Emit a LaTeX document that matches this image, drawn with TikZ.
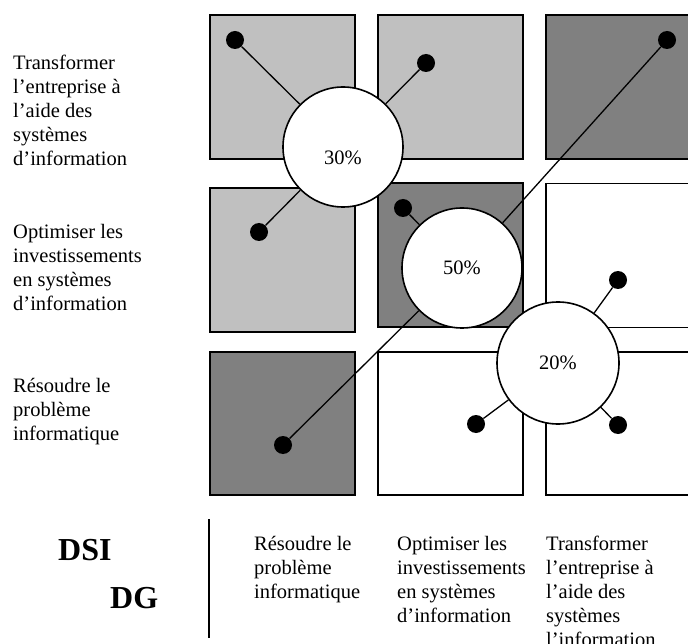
\documentclass[tikz,border=0pt]{standalone}
\usepackage{fontspec}
\setmainfont{Liberation Serif}
\definecolor{lightg}{HTML}{C0C0C0}
\definecolor{darkg}{HTML}{808080}
\tikzset{
  sq/.style={draw=black, line width=1.8pt, minimum width=145pt, minimum height=144pt, inner sep=0pt, outer sep=0pt},
  pct/.style={circle, draw=black, line width=1.6pt, fill=white, minimum size=120pt, inner sep=0pt, font=\fontsize{20.5}{24}\selectfont},
  dotn/.style={circle, fill=black, minimum size=18pt, inner sep=0pt},
  conn/.style={line width=1.3pt},
  lab/.style={anchor=base west, inner sep=0pt, font=\fontsize{20.5}{24}\selectfont},
  blab/.style={anchor=base west, inner sep=0pt, font=\fontsize{20.5}{24}\selectfont},
  big/.style={anchor=base west, inner sep=0pt, font=\bfseries\fontsize{32}{36}\selectfont}
}
\begin{document}
\begin{tikzpicture}[x=1pt,y=-1pt]
\useasboundingbox (0,0) rectangle (688,644);
% grid
\node[sq, fill=lightg] (s11) at (282.5,87) {};
\node[sq, fill=lightg] (s12) at (450.5,87) {};
\node[sq, fill=darkg]  (s13) at (618.5,87) {};
\node[sq, fill=lightg] (s21) at (282.5,260) {};
\node[sq, fill=darkg]  (s22) at (450.5,255) {};
\node[sq, fill=white]  (s23) at (618.5,255.5) {};
\node[sq, fill=darkg, minimum height=143pt] (s31) at (282.5,423.5) {};
\node[sq, fill=white, minimum height=143pt] (s32) at (450.5,423.5) {};
\node[sq, fill=white, minimum height=143pt] (s33) at (618.5,423.5) {};
% dots
\node[dotn] (d1) at (235,40) {};
\node[dotn] (d2) at (426,63) {};
\node[dotn] (d3) at (667,40) {};
\node[dotn] (d4) at (259,232) {};
\node[dotn] (d5) at (403,208) {};
\node[dotn] (d6) at (618,280) {};
\node[dotn] (d7) at (476,424) {};
\node[dotn] (d8) at (618,425) {};
\node[dotn] (d9) at (283,445) {};
% circles
\node[pct, label={[font=\fontsize{20.5}{24}\selectfont, yshift=-11pt]center:30\%}] (c30) at (343,147) {};
\node[pct] (c50) at (462,268) {50\%};
\node[pct, minimum size=122pt] (c20) at (558,363) {20\%};
% connectors
\draw[conn] (d1) -- (c30);
\draw[conn] (d2) -- (c30);
\draw[conn] (d4) -- (c30);
\draw[conn] (d3) -- (c50);
\draw[conn] (c50) -- (d9);
\draw[conn] (d5) -- (c50);
\draw[conn] (d6) -- (c20);
\draw[conn] (d7) -- (c20);
\draw[conn] (d8) -- (c20);
% row labels
\node[lab] (r1) at (13,70) {\begin{tabular}[t]{@{}l@{}}Transformer\\ l’entreprise à\\ l’aide des\\ systèmes\\ d’information\end{tabular}};
\node[lab] (r2) at (13,239) {\begin{tabular}[t]{@{}l@{}}Optimiser les\\ investissements\\ en systèmes\\ d’information\end{tabular}};
\node[lab] (r3) at (13,392) {\begin{tabular}[t]{@{}l@{}}Résoudre le\\ problème\\ informatique\end{tabular}};
% axis labels
\node[big] (dsi) at (58,560) {DSI};
\node[big] (dg) at (110,608) {DG};
\coordinate (vtop) at (209,519);
\coordinate (vbot) at (209,638);
\draw[line width=1.5pt] (vtop) -- (vbot);
\node[blab] (b1) at (254,550) {\begin{tabular}[t]{@{}l@{}}Résoudre le\\ problème\\ informatique\end{tabular}};
\node[blab] (b2) at (397,550) {\begin{tabular}[t]{@{}l@{}}Optimiser les\\ investissements\\ en systèmes\\ d’information\end{tabular}};
\node[blab] (b3) at (546,550) {\begin{tabular}[t]{@{}l@{}}Transformer\\ l’entreprise à\\ l’aide des\\ systèmes\\ l’information\end{tabular}};
\end{tikzpicture}
\end{document}
